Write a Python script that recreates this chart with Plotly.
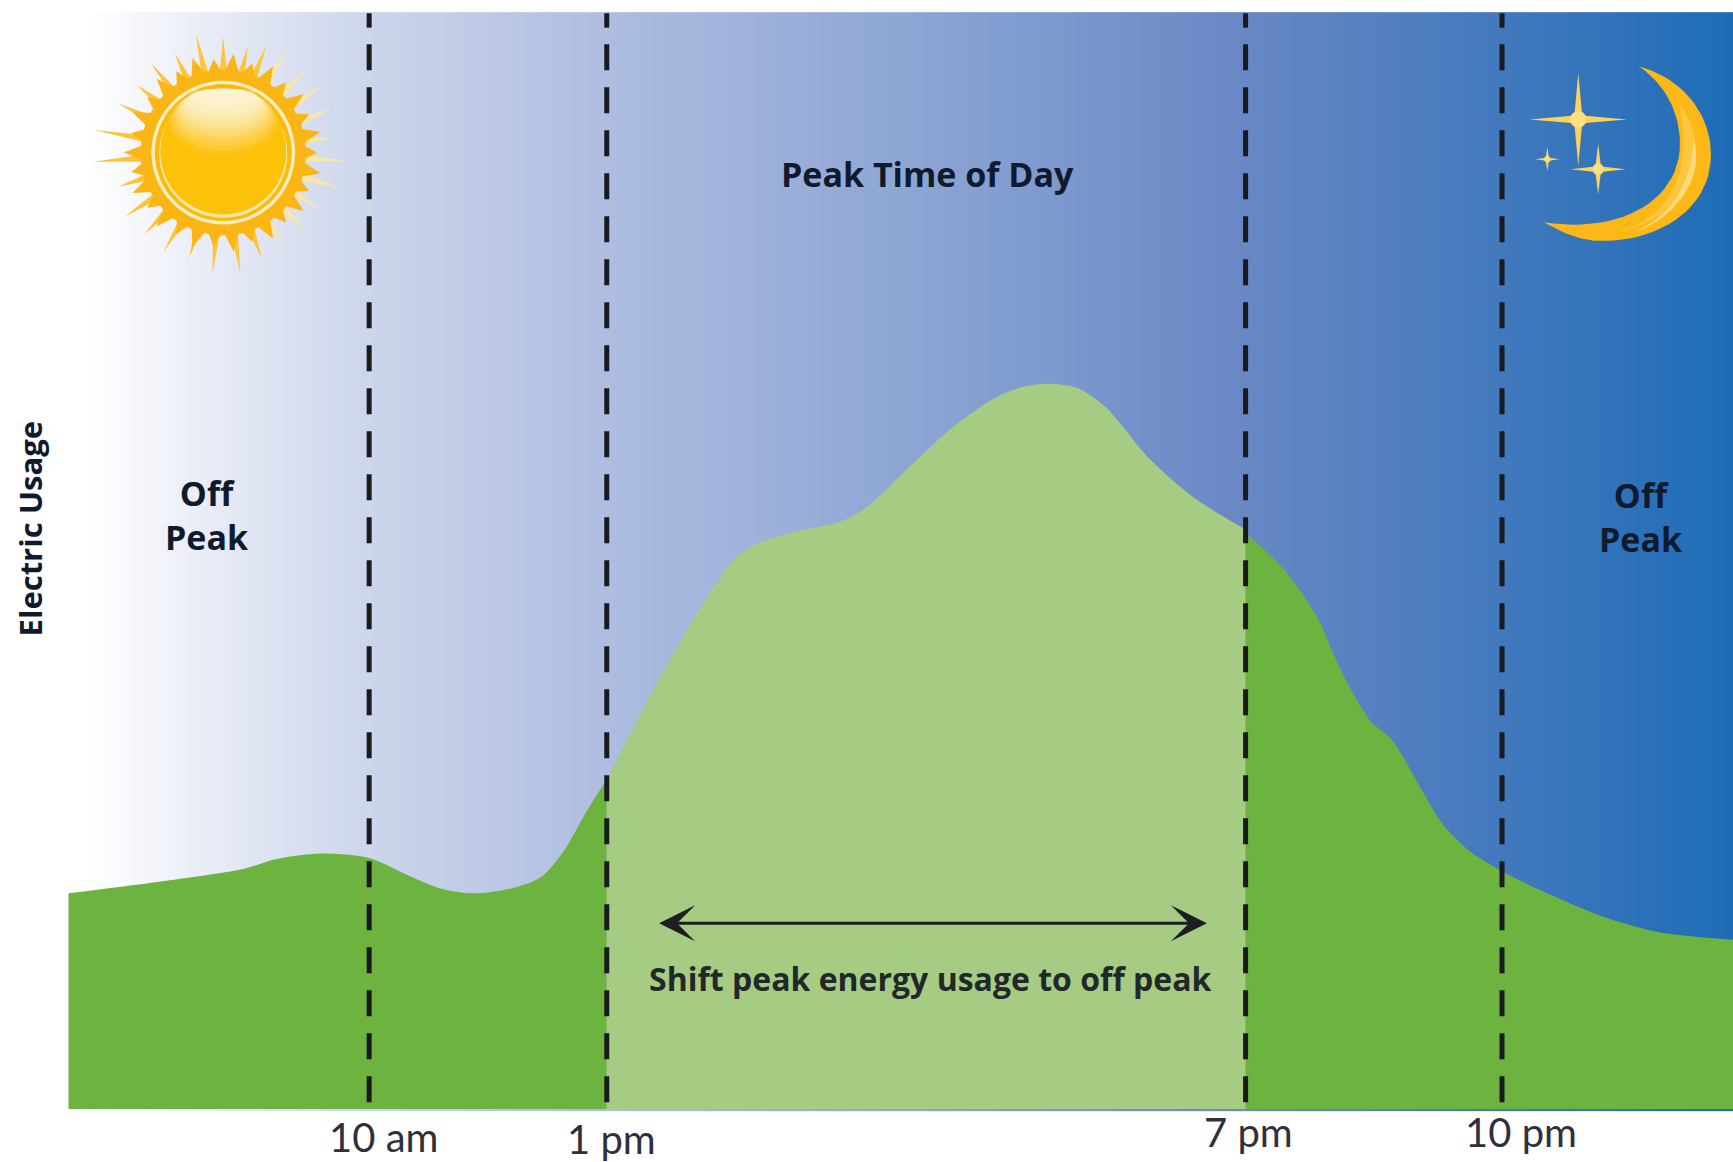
import numpy as np
import plotly.graph_objects as go

# ---------- data (x = position along the day axis, y = electric usage) ----------
OFF_AM_X = [62, 140, 220, 250, 290, 334, 370, 400, 430, 465, 490, 510, 530, 549]
OFF_AM_Y = [195, 205, 217, 226, 231, 227, 211, 199, 195, 200, 210, 233, 268, 298]
PEAK_X = [549, 580, 610, 640, 665, 685, 720, 760, 785, 820, 860, 900, 925, 950, 975, 1000, 1040, 1080, 1127]
PEAK_Y = [298, 358, 413, 463, 498, 511, 522, 531, 545, 578, 615, 643, 653, 656, 652, 635, 588, 553, 524]
OFF_PM_X = [1127, 1160, 1190, 1215, 1240, 1260, 1285, 1305, 1330, 1359, 1400, 1450, 1500, 1568]
OFF_PM_Y = [521, 490, 448, 393, 351, 333, 291, 258, 233, 215, 195, 174, 160, 153]

BOUNDARY_X = [334, 549, 1127, 1359]
TICK_LABELS = ["10 am", "1 pm", "7 pm", "10 pm"]
TICK_LABEL_X = [347, 553, 1130, 1376]
TICK_LABEL_Y = [-25, -27, -21, -21]

GRADIENT_POS = [0, 80, 200, 334, 549, 830, 1127, 1359, 1568]
GRADIENT_COLORS = ["#ffffff", "#ffffff", "#e6eaf5", "#ccd5eb", "#aebde0",
                   "#8ca5d4", "#6887c4", "#4279bd", "#1e6cb6"]

W, H = 1733, 1162
X_MAX, Y_TOP, Y_BOTTOM = 1568, 1003, -48
GREEN, LIGHT_GREEN = "#6db33f", "#a6cc84"
DARK = "#0f1a2c"
FONT = "Open Sans"

fig = go.Figure()

# ---------- background gradient ----------
edges = np.arange(0, X_MAX + 2, 2)
centres = (edges[:-1] + edges[1:]) / 2
scale = [[p / X_MAX, c] for p, c in zip(GRADIENT_POS, GRADIENT_COLORS)]
fig.add_trace(go.Heatmap(x=edges, y=[-2, 992], z=[centres], zmin=0, zmax=X_MAX,
                         colorscale=scale, showscale=False, hoverinfo="skip"))

# ---------- usage areas ----------
for xs, ys, col in [(OFF_AM_X, OFF_AM_Y, GREEN), (OFF_PM_X, OFF_PM_Y, GREEN), (PEAK_X, PEAK_Y, LIGHT_GREEN)]:
    fig.add_trace(go.Scatter(x=xs, y=ys, mode="lines", fill="tozeroy", fillcolor=col,
                             line=dict(width=0, shape="spline", smoothing=0.8, color=col),
                             hoverinfo="skip"))

# ---------- boundary lines ----------
for bx in BOUNDARY_X:
    fig.add_trace(go.Scatter(x=[bx, bx, None, bx, bx], y=[991, 978, None, 963, -2], mode="lines",
                             line=dict(color="#1a1a1e", width=5, dash="26px,17px"),
                             hoverinfo="skip"))


def polygon(px, py, color):
    """px, py given as picture position; y measured downwards from the top."""
    fig.add_trace(go.Scatter(x=px, y=[None if v is None else Y_TOP - v for v in py], mode="lines",
                             fill="toself", fillcolor=color, line=dict(width=0, color=color),
                             hoverinfo="skip"))


def ellipse(cx, cy, rx, ry, color):
    t = np.linspace(0, 2 * np.pi, 90)
    polygon(list(cx + rx * np.cos(t)), list(cy + ry * np.sin(t)), color)


def rays(cx, cy, angles, lengths, base, half_width, color):
    xs, ys = [], []
    for a, l in zip(angles, lengths):
        r = np.radians(a)
        h = np.radians(half_width)
        xs += [cx + base * np.cos(r - h), cx + l * np.cos(r), cx + base * np.cos(r + h), None]
        ys += [cy + base * np.sin(r - h), cy + l * np.sin(r), cy + base * np.sin(r + h), None]
    polygon(xs, ys, color)


def bezier(p0, c0, c1, p1, n=24):
    t = np.linspace(0, 1, n)[:, None]
    p0, c0, c1, p1 = map(np.array, (p0, c0, c1, p1))
    return (1 - t) ** 3 * p0 + 3 * (1 - t) ** 2 * t * c0 + 3 * (1 - t) * t ** 2 * c1 + t ** 3 * p1


def curve_poly(segments, color):
    pts = np.vstack([bezier(*s) for s in segments])
    polygon(list(pts[:, 0]), list(pts[:, 1]), color)


# ---------- sun ----------
SUN_X, SUN_Y = 202, 138
PALE_ANGLES = [-58, -45, -34, -22, -8, 4, 17, 30, 43, 57]
PALE_LENGTHS = [112, 108, 112, 106, 100, 112, 112, 100, 104, 100]
STRONG_ANGLES = [70, 82, 95, 108, 121, 134, 147, 162, 176, 190, 205, 218, 231, 244, 257, 270, 283, 292]
STRONG_LENGTHS = [102, 110, 110, 100, 105, 103, 106, 100, 118, 118, 105, 100, 104, 100, 110, 105, 98, 104]
rays(SUN_X, SUN_Y, PALE_ANGLES, PALE_LENGTHS, 72, 2.6, "#fbe6a6")
rays(SUN_X, SUN_Y, STRONG_ANGLES, STRONG_LENGTHS, 72, 2.6, "#fdc435")
CORONA = np.arange(0, 360, 12)
rays(SUN_X, SUN_Y, CORONA, [90 if i % 2 else 85 for i in range(len(CORONA))], 70, 6.5, "#fbb615")
ellipse(SUN_X, SUN_Y, 75, 75, "#fbb615")
ellipse(SUN_X, SUN_Y, 65, 65, "#fff0c4")
ellipse(SUN_X, SUN_Y, 62, 62, "#fcb90f")
ellipse(SUN_X, SUN_Y + 1, 58, 58, "#ffe9a8")
ellipse(SUN_X, SUN_Y - 1, 57, 57, "#fcc109")
for i in range(14):
    ry = 30 - i * 2
    ellipse(SUN_X, SUN_Y - 58 + ry, 49 - i * 1.6, ry, f"rgba(255,248,225,{0.09 + i * 0.015:.3f})")

# ---------- moon ----------
curve_poly([((1483, 60), (1525, 72), (1548, 105), (1548, 140)),
            ((1548, 140), (1548, 190), (1500, 218), (1450, 218)),
            ((1450, 218), (1430, 218), (1415, 211), (1397, 201)),
            ((1397, 201), (1465, 212), (1520, 182), (1520, 130)),
            ((1520, 130), (1520, 100), (1505, 75), (1483, 60))], "#fcb817")
curve_poly([((1520, 95), (1548, 130), (1542, 200), (1445, 214)),
            ((1445, 214), (1510, 205), (1532, 160), (1520, 95))], "#fdc63f")
curve_poly([((1532, 125), (1544, 160), (1515, 200), (1475, 211)),
            ((1475, 211), (1515, 197), (1532, 160), (1532, 125))], "#fedb78")


def star(cx, cy, rx, ry, waist):
    xs, ys = [], []
    for k in range(8):
        a = np.pi * k / 4
        if k % 2 == 0:
            xs.append(cx + rx * np.cos(a))
            ys.append(cy + ry * np.sin(a))
        else:
            xs.append(cx + waist * np.cos(a))
            ys.append(cy + waist * np.sin(a))
    xs.append(xs[0])
    ys.append(ys[0])
    polygon(xs, ys, "#fdd258")
    ellipse(cx, cy, waist * 1.5, waist * 1.5, "#fde07f")


star(1428, 108, 44, 42, 5)
star(1446, 153, 25, 23, 3.5)
star(1400, 144, 11, 11, 2)

# ---------- text ----------
ann = []


def text(x, y, s, size, color=DARK, angle=0):
    ann.append(dict(x=x, y=Y_TOP - y, text=f"<b>{s}</b>", showarrow=False, textangle=angle,
                    xanchor="center", yanchor="middle",
                    font=dict(family=FONT, size=size, color=color)))


text(839, 157, "Peak Time of Day", 34)
text(187, 466, "Off<br>Peak", 34)
text(1485, 468, "Off<br>Peak", 34)
text(28, 478, "Electric Usage", 31, angle=-90)
text(842, 885, "Shift peak energy usage to off peak", 32, color="#22282a")
for s, lx, ly in zip(TICK_LABELS, TICK_LABEL_X, TICK_LABEL_Y):
    ann.append(dict(x=lx, y=ly, text=s, showarrow=False, xanchor="center", yanchor="middle",
                    font=dict(family="Lato", size=40, color="#2f2f3e")))
ann.append(dict(x=1092, y=Y_TOP - 835, ax=595, ay=Y_TOP - 835, xref="x", yref="y", axref="x", ayref="y",
                text="", showarrow=True, arrowhead=3, arrowside="end+start", arrowsize=2, arrowwidth=3,
                arrowcolor="#1e1e22"))

fig.update_layout(width=W, height=H, margin=dict(l=0, r=0, t=0, b=0),
                  paper_bgcolor="white", plot_bgcolor="white", showlegend=False,
                  xaxis=dict(range=[0, X_MAX], visible=False, fixedrange=True),
                  yaxis=dict(range=[Y_BOTTOM, Y_TOP], visible=False, fixedrange=True),
                  annotations=ann)

fig.write_html("out.html", config={"displayModeBar": False},
               post_script="document.body.style.margin='0';")
